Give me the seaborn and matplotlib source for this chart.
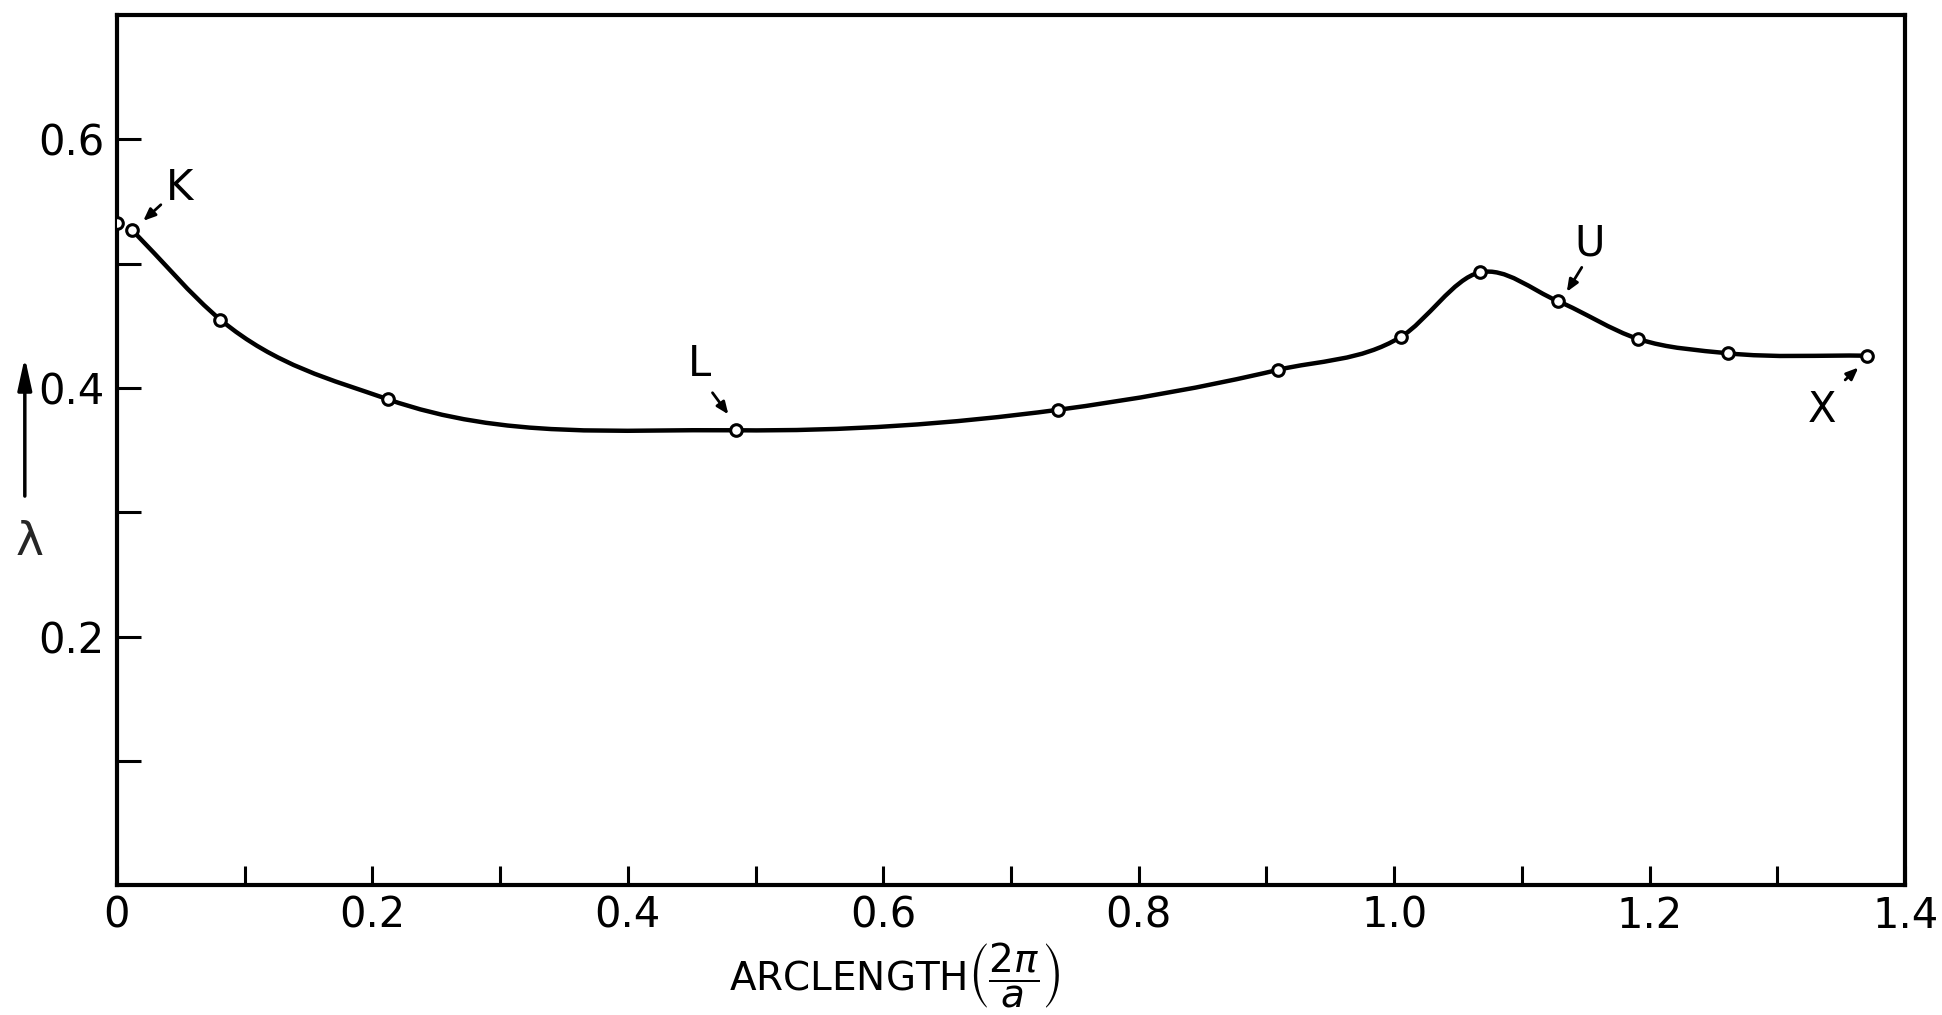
import numpy as np
import pandas as pd
import matplotlib
matplotlib.use("Agg")
import matplotlib.pyplot as plt
from matplotlib.path import Path
from matplotlib.patches import PathPatch
import seaborn as sns

# ---- data ----
arclength = [0.000, 0.012, 0.081, 0.212, 0.485, 0.737, 0.909, 1.005, 1.067, 1.128, 1.191, 1.261, 1.370]
lam = [0.533, 0.527, 0.455, 0.391, 0.366, 0.3825, 0.4146, 0.441, 0.493, 0.470, 0.4395, 0.428, 0.426]
curve_start = 1  # the smooth curve begins at point K

point_labels = ["K", "L", "U", "X"]
label_index = [1, 4, 9, 12]

x_ticks = [round(0.1 * i, 1) for i in range(15)]
x_ticklabels = ["0", "", "0.2", "", "0.4", "", "0.6", "", "0.8", "", "1.0", "", "1.2", "", "1.4"]
y_ticks = [0.1, 0.2, 0.3, 0.4, 0.5, 0.6]
y_ticklabels = ["", "0.2", "", "0.4", "", "0.6"]

df = pd.DataFrame({"arclength": arclength, "lam": lam})

sns.set_theme(style="white")
plt.rcParams["font.family"] = ["DejaVu Sans"]
plt.rcParams["mathtext.fontset"] = "dejavusans"

fig = plt.figure(figsize=(19.42, 10.15), dpi=100)
ax = fig.add_axes([0.0602, 0.128, 0.9208, 0.857])

# smooth curve (cubic Hermite through the points, drawn as Bezier path in data coords)
xs = np.array(arclength[curve_start:])
ys = np.array(lam[curve_start:])
n = len(xs)
h = np.diff(xs)
d = np.diff(ys) / h
m = np.zeros(n)
m[0] = d[0]
m[-1] = d[-1]
for i in range(1, n - 1):
    m[i] = (d[i - 1] * h[i] + d[i] * h[i - 1]) / (h[i - 1] + h[i])
verts = [(xs[0], ys[0])]
codes = [Path.MOVETO]
for i in range(n - 1):
    hi = h[i]
    verts += [(xs[i] + hi / 3, ys[i] + m[i] * hi / 3),
              (xs[i + 1] - hi / 3, ys[i + 1] - m[i + 1] * hi / 3),
              (xs[i + 1], ys[i + 1])]
    codes += [Path.CURVE4] * 3
ax.add_patch(PathPatch(Path(verts, codes), fill=False, edgecolor="black", lw=3.2, zorder=2))

sns.scatterplot(data=df, x="arclength", y="lam", ax=ax, s=70, marker="o",
                facecolor="white", edgecolor="black", linewidth=2.2, zorder=3, legend=False)

# point annotations
offsets = {"K": ((0.049, 0.561), (0.036, 0.549), (0.019, 0.533)),
           "L": ((0.4565, 0.419), (0.465, 0.398), (0.480, 0.377)),
           "U": ((1.153, 0.516), (1.148, 0.499), (1.134, 0.4755)),
           "X": ((1.335, 0.3825), (1.3515, 0.405), (1.365, 0.418))}
for name in point_labels:
    (tx, ty), (ax0, ay0), (hx, hy) = offsets[name]
    ax.text(tx, ty, name, fontsize=30, ha="center", va="center", color="black")
    ax.annotate("", xy=(hx, hy), xytext=(ax0, ay0),
                arrowprops=dict(arrowstyle="-|>,head_length=0.6,head_width=0.25",
                                color="black", lw=2))

ax.set_xlim(0, 1.4)
ax.set_ylim(0, 0.7)
ax.set_xticks(x_ticks)
ax.set_xticklabels(x_ticklabels)
ax.set_yticks(y_ticks)
ax.set_yticklabels(y_ticklabels)
ax.tick_params(axis="both", direction="in", colors="black", labelsize=30, width=2.2,
               bottom=True, left=True, top=False, right=False)
ax.tick_params(axis="x", length=14, pad=7)
ax.tick_params(axis="y", length=17, pad=9)
for s in ax.spines.values():
    s.set_visible(True)
    s.set_color("black")
    s.set_linewidth(3)

ax.set_xlabel("")
ax.set_ylabel("")
ax.text(0.435, -0.103, r"ARCLENGTH$\left(\dfrac{2\pi}{a}\right)$", transform=ax.transAxes,
        fontsize=28, ha="center", va="center", color="black")
ax.text(-0.0487, 0.394, "λ", transform=ax.transAxes, fontsize=34, ha="center", va="center")
ax.annotate("", xy=(-0.0515, 0.610), xytext=(-0.0515, 0.444), xycoords="axes fraction",
            textcoords="axes fraction",
            arrowprops=dict(arrowstyle="-|>,head_length=1.6,head_width=0.35", color="black", lw=2.5))

fig.savefig("out.png", dpi=100, facecolor="white")
